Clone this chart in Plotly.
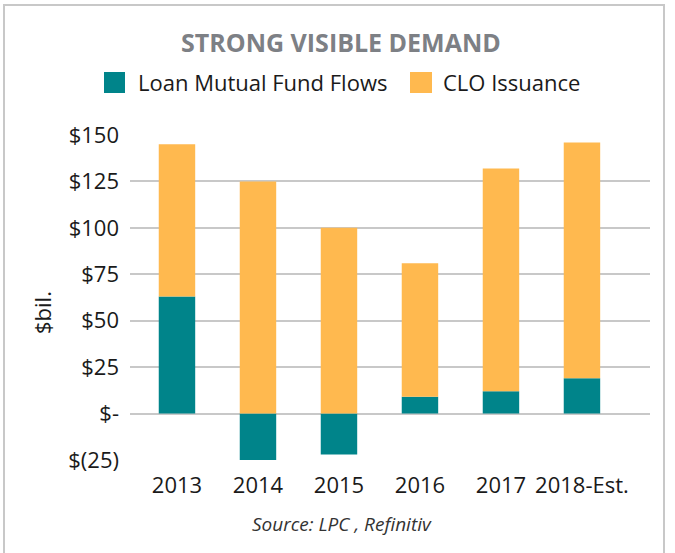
import plotly.graph_objects as go

years = ["2013", "2014", "2015", "2016", "2017", "2018-Est."]
loan_flows = [63, -25, -22, 9, 12, 19]
clo_issuance = [82, 125, 100, 72, 120, 127]
y_tick_vals = [-25, 0, 25, 50, 75, 100, 125, 150]
y_tick_text = ["$(25)", "$-", "$25", "$50", "$75", "$100", "$125", "$150"]

TEAL = "#00848A"
ORANGE = "#FFB94F"
FONT = "Open Sans"
TXT = "#1a1a1a"

fig = go.Figure()
fig.add_trace(go.Bar(x=years, y=loan_flows, name="Loan Mutual Fund Flows",
                     marker=dict(color=TEAL, line=dict(width=0)), showlegend=False))
fig.add_trace(go.Bar(x=years, y=clo_issuance, name="CLO Issuance",
                     marker=dict(color=ORANGE, line=dict(width=0)), showlegend=False))

L, R, T, B = 130, 25, 135, 93
W, H = 675, 553
pw, ph = W - L - R, H - T - B

def px(x):
    return (x - L) / pw

def py(y):
    return (H - B - y) / ph

shapes = [
    # outer frame
    dict(type="rect", xref="paper", yref="paper", x0=px(4), x1=px(664), y0=py(600), y1=py(5),
         line=dict(color="#c8c8c8", width=2), fillcolor="rgba(0,0,0,0)", layer="below"),
    # legend swatches
    dict(type="rect", xref="paper", yref="paper", x0=px(104), x1=px(125), y0=py(93), y1=py(72),
         line=dict(width=0), fillcolor=TEAL),
    dict(type="rect", xref="paper", yref="paper", x0=px(410), x1=px(432), y0=py(93), y1=py(72),
         line=dict(width=0), fillcolor=ORANGE),
]

annotations = [
    dict(text="Loan Mutual Fund Flows", xref="paper", yref="paper", x=px(136), y=py(82),
         xanchor="left", yanchor="middle", showarrow=False,
         font=dict(family=FONT, size=22, color=TXT)),
    dict(text="CLO Issuance", xref="paper", yref="paper", x=px(441), y=py(82),
         xanchor="left", yanchor="middle", showarrow=False,
         font=dict(family=FONT, size=22, color=TXT)),
    dict(text="<i>Source: LPC , Refinitiv</i>", xref="paper", yref="paper", x=px(342), y=py(524),
         xanchor="center", yanchor="middle", showarrow=False,
         font=dict(family=FONT, size=19, color="#333333")),
    dict(text="$bil.", xref="paper", yref="paper", x=px(42), y=py(313), textangle=-90,
         xanchor="center", yanchor="middle", showarrow=False,
         font=dict(family=FONT, size=22, color=TXT)),
]

fig.update_layout(
    width=W, height=H,
    margin=dict(l=L, r=R, t=T, b=B),
    paper_bgcolor="white", plot_bgcolor="white",
    barmode="relative",
    bargap=0.55,
    title=dict(text="<b>STRONG VISIBLE DEMAND</b>", x=0.505, xref="container", xanchor="center",
               y=1 - 43 / H, yref="container", yanchor="middle",
               font=dict(family=FONT, size=25, color="#7d8085")),
    font=dict(family=FONT, color=TXT),
    shapes=shapes,
    annotations=annotations,
    xaxis=dict(type="category", range=[-0.58, 5.84], showgrid=False, zeroline=False,
               showline=False, ticks="", ticklabelstandoff=10,
               tickfont=dict(family=FONT, size=22, color=TXT)),
    yaxis=dict(range=[-25, 150], tickvals=y_tick_vals, ticktext=y_tick_text,
               showgrid=True, gridcolor="#c8c8c8", gridwidth=1.5, zeroline=False,
               showline=False, ticks="", ticklabelstandoff=10,
               tickfont=dict(family=FONT, size=22, color=TXT)),
)

fig.write_html("out.html")
